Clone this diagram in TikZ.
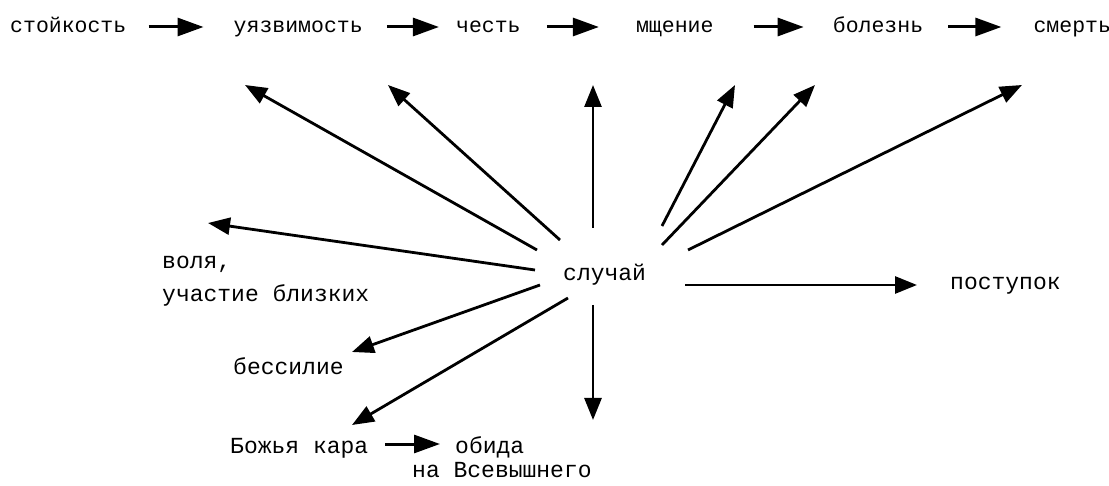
\documentclass[tikz,border=0pt]{standalone}
\usepackage{fontspec}
\usepackage{tikz}
\usetikzlibrary{positioning,arrows.meta}
\newfontfamily\courfont{Liberation Mono}
\tikzset{
  word/.style  = {inner sep=0pt, font=\courfont\fontsize{21.5}{26}\selectfont},
  lword/.style = {inner sep=0pt, align=left, font=\courfont\fontsize{23}{33}\selectfont},
  flow/.style  = {-{Triangle[length=26pt,width=18pt]}, line width=3pt},
  fan/.style   = {-{Triangle[length=22pt,width=17pt]}, line width=2.8pt},
}

\begin{document}
\begin{tikzpicture}[x=1pt,y=-1pt]
  \useasboundingbox (0,0) rectangle (1109,486);
  % top chain
  \node[word, anchor=base west] (stk) at (10,33) {стойкость};
  \node[word, base right=107pt of stk] (uya) {уязвимость};
  \node[word, base right=93pt of uya] (che) {честь};
  \node[word, base right=115pt of che] (msh) {мщение};
  \node[word, base right=119pt of msh] (bol) {болезнь};
  \node[word, base right=110pt of bol] (smt) {смерть};
  \foreach \a/\b/\p/\q in {stk/uya/22/30, uya/che/24/17, che/msh/26/37, msh/bol/40/29, bol/smt/25/32}
    \draw[flow, shorten <=\p pt, shorten >=\q pt] ([yshift=6pt]\a.base east) -- ([yshift=6pt]\b.base west);

  % centre and labels
  \node[lword, anchor=base west] (sl) at (563,281) {случай};
  \node[lword, anchor=north west] (vol) at (162,256) {воля,\\участие близких};
  \node[lword, anchor=base west] (bes) at (233,374) {бессилие};
  \node[lword, anchor=base west] (kara) at (230,453) {Божья кара};
  \node[lword, anchor=base west] (obi) at (455,453) {обида};
  \node[lword, anchor=base west] (vsv) at (412,477) {на Всевышнего};
  \node[lword, anchor=base west] (post) at (950,290) {поступок};
  \draw[flow, shorten <=17pt, shorten >=15pt] ([yshift=9pt]kara.base east) -- ([yshift=9pt]obi.base west);

  % fan ends
  \coordinate (sA) at (537,250); \coordinate (tA) at (245,85);
  \coordinate (sB) at (560,240); \coordinate (tB) at (388,85);
  \coordinate (sC) at (593,228); \coordinate (tC) at (593,85);
  \coordinate (sD) at (662,226); \coordinate (tD) at (735,85);
  \coordinate (sE) at (662,245); \coordinate (tE) at (815,85);
  \coordinate (sF) at (688,250); \coordinate (tF) at (1022,85);
  \coordinate (sG) at (535,270); \coordinate (tG) at (208,223);
  \coordinate (sH) at (685,285);
  \coordinate (sI) at (540,285); \coordinate (tI) at (352,352);
  \coordinate (sJ) at (568,298); \coordinate (tJ) at (352,425);
  \coordinate (sK) at (593,305); \coordinate (tK) at (593,420);
  \foreach \n in {A,B,C,D,E,F,G,I,J,K}
    \draw[fan] (s\n) -- (t\n);
  \draw[fan, shorten >=33pt] (sH) -- ([yshift=5pt]post.base west);
\end{tikzpicture}
\end{document}
